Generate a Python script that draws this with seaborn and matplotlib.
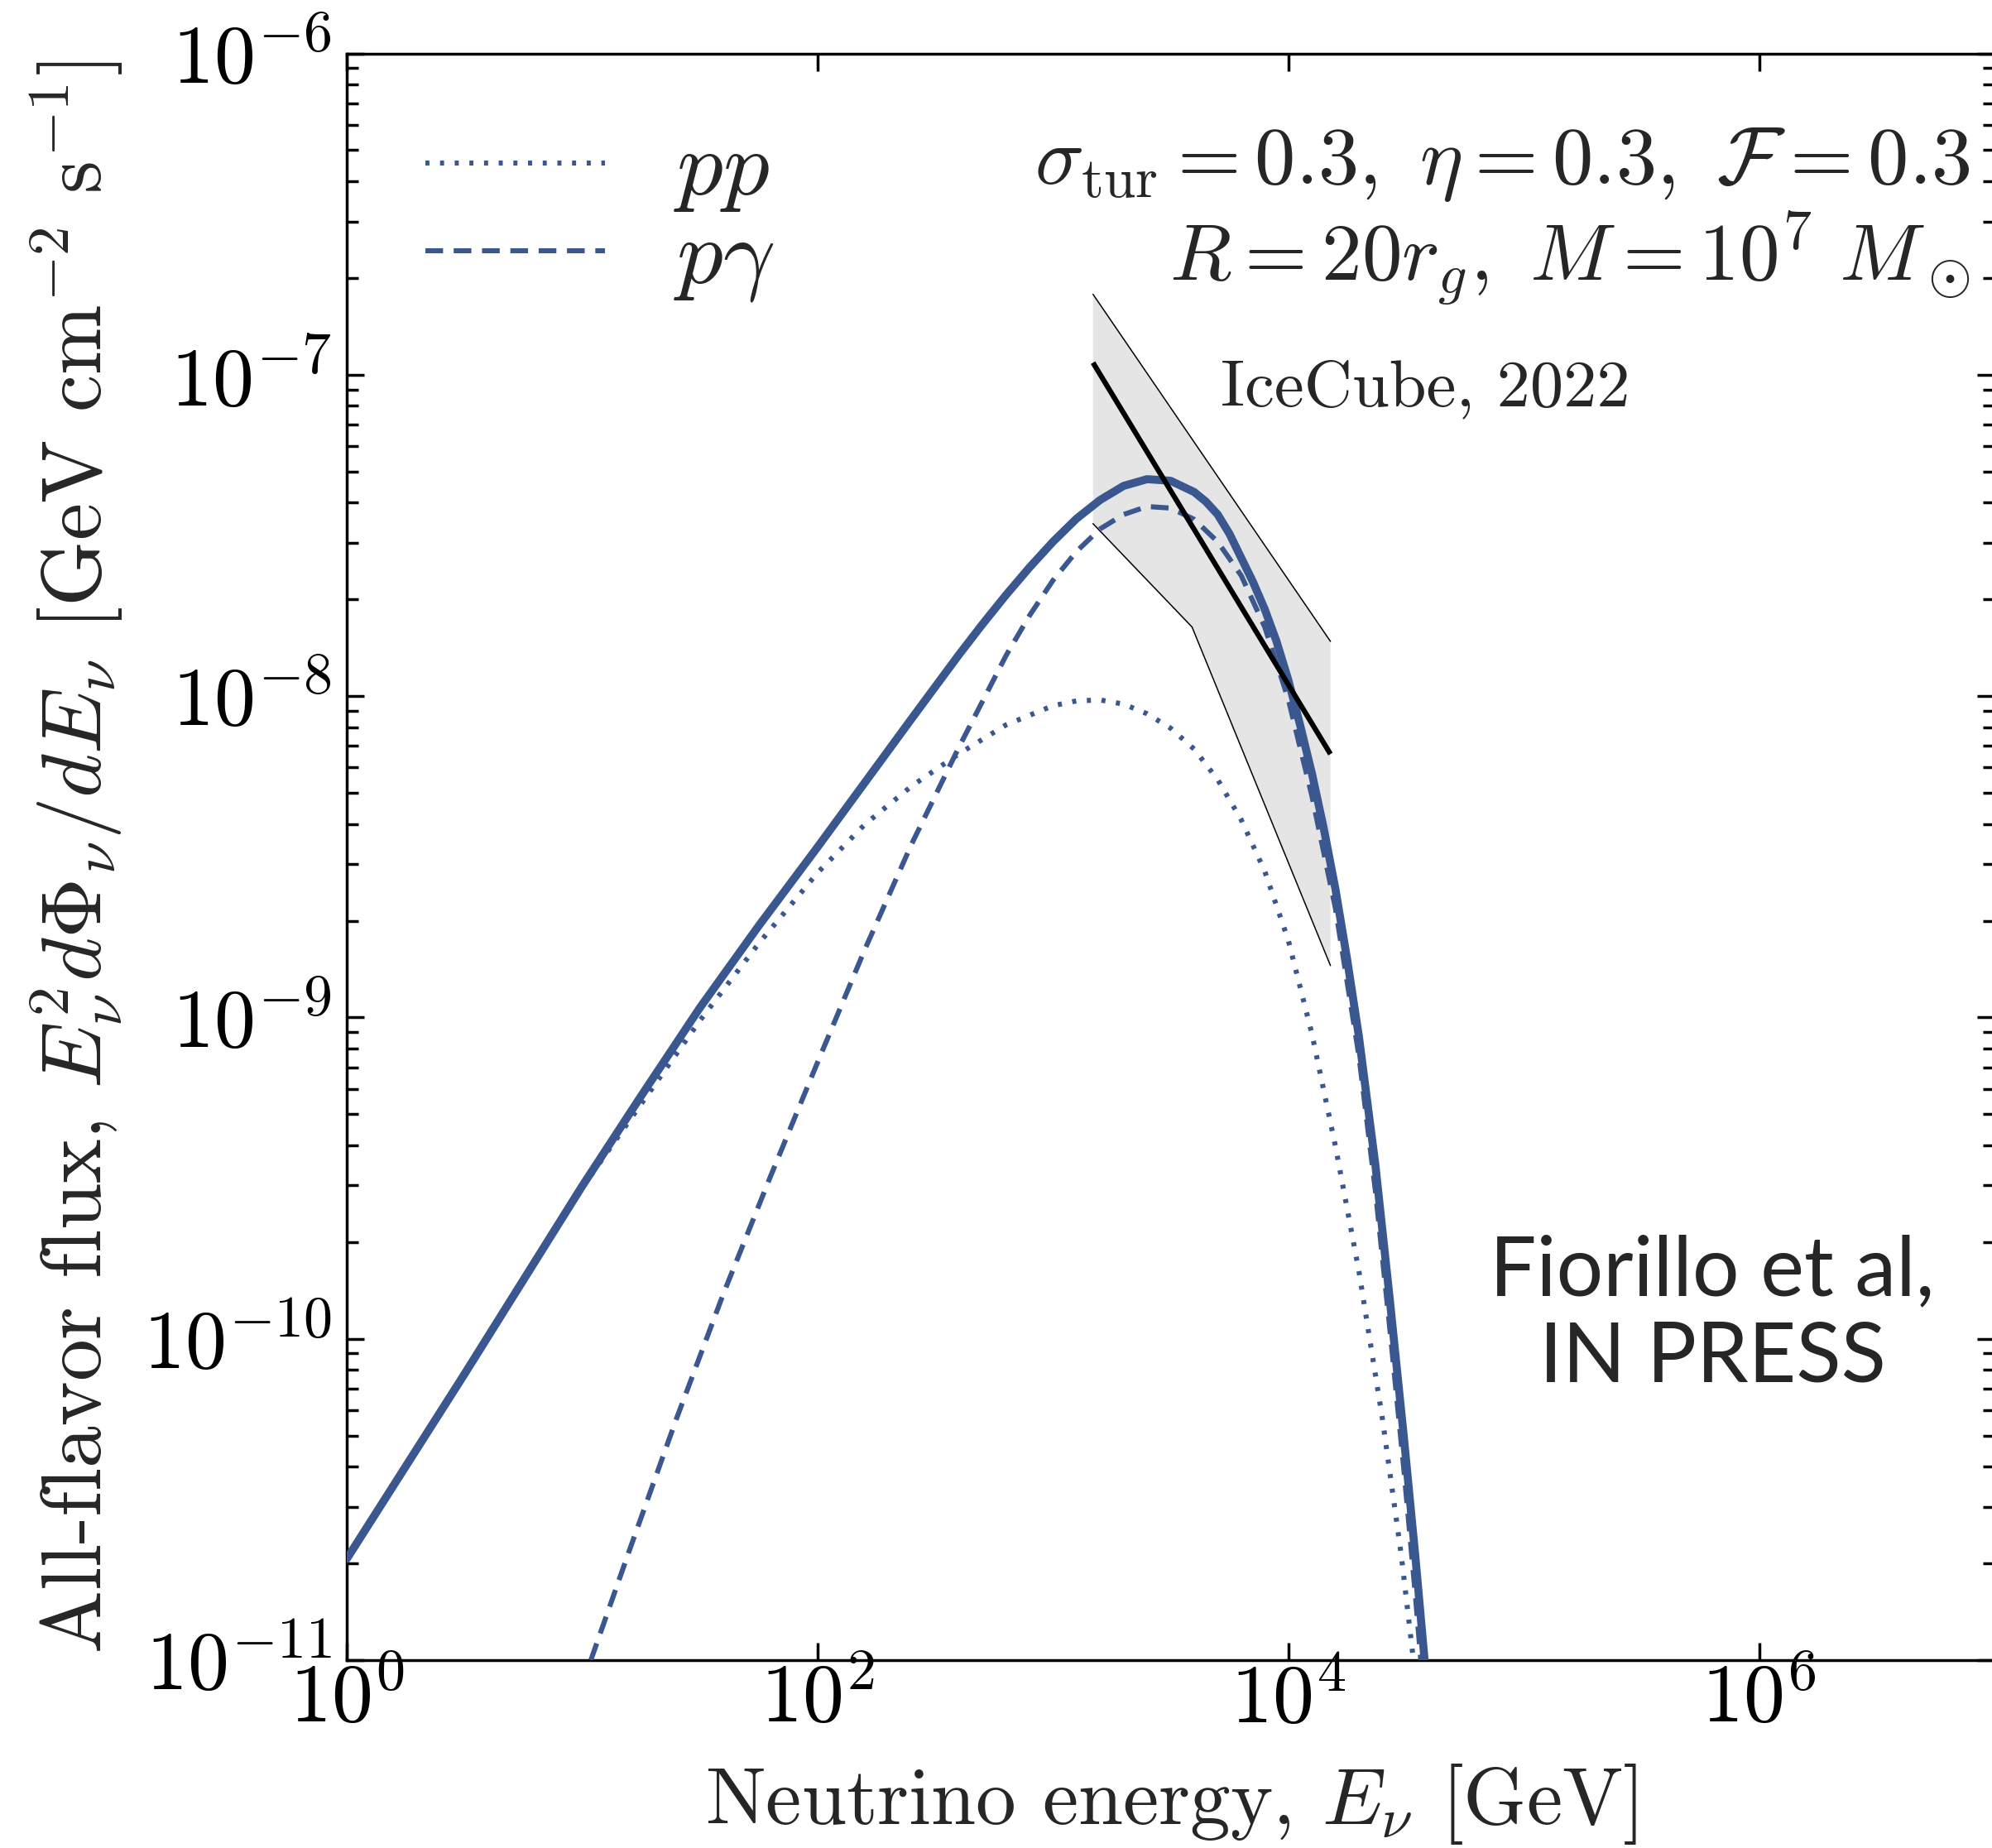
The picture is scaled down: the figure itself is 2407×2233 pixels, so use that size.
import numpy as np
import pandas as pd
import matplotlib
matplotlib.use("Agg")
import matplotlib.pyplot as plt
import seaborn as sns
from matplotlib.ticker import FixedLocator, FixedFormatter, NullLocator, LogLocator

# ---------------- data (log10 values) ----------------
total_logE = [0.00, 0.50, 1.00, 1.25, 1.50, 1.75, 2.00, 2.20, 2.40, 2.60, 2.70, 2.80, 2.90, 3.00,
              3.10, 3.20, 3.30, 3.40, 3.50, 3.60, 3.65, 3.70, 3.75, 3.80, 3.85, 3.90,
              3.95, 4.00, 4.05, 4.10, 4.15, 4.20, 4.25, 4.30, 4.37, 4.43, 4.49, 4.54,
              4.585]
total_logF = [-10.685, -10.11, -9.525, -9.245, -8.97, -8.715, -8.47, -8.27, -8.07, -7.872, -7.777, -7.686,
              -7.600, -7.520, -7.448, -7.390, -7.346, -7.325, -7.330, -7.365, -7.395, -7.435,
              -7.495, -7.570, -7.645, -7.730, -7.830, -7.950, -8.090, -8.240, -8.410, -8.600,
              -8.820, -9.060, -9.460, -9.870, -10.30, -10.68, -11.05]

pp_logE = [0.00, 0.50, 1.00, 1.50, 1.75, 2.00, 2.20, 2.40, 2.60, 2.80, 3.00, 3.10,
           3.20, 3.30, 3.40, 3.50, 3.60, 3.70, 3.80, 3.90, 4.00, 4.10, 4.20, 4.30,
           4.40, 4.48, 4.53]
pp_logF = [-10.685, -10.11, -9.53, -9.01, -8.77, -8.55, -8.40, -8.28, -8.18, -8.09,
           -8.03, -8.015, -8.012, -8.025, -8.055, -8.10, -8.165, -8.26, -8.385, -8.545,
           -8.76, -9.05, -9.40, -9.79, -10.25, -10.674, -10.99]

pg_logE = [1.037, 1.20, 1.40, 1.60, 1.80, 2.00, 2.20, 2.40, 2.60, 2.80, 2.90, 3.00,
           3.10, 3.20, 3.30, 3.40, 3.50, 3.60, 3.70, 3.80, 3.90, 4.00, 4.10, 4.20,
           4.30, 4.37, 4.43, 4.49, 4.54, 4.565]
pg_logF = [-11.0, -10.66, -10.25, -9.86, -9.495, -9.14, -8.79, -8.46, -8.16, -7.875,
           -7.75, -7.64, -7.55, -7.48, -7.435, -7.41, -7.415, -7.45, -7.52, -7.625,
           -7.785, -8.01, -8.31, -8.66, -9.12, -9.54, -9.96, -10.40, -10.80, -11.02]

# IceCube 2022 (NGC 1068) best fit and band
ic_fit_E = [1.48e3, 1.51e4]
ic_fit_F = [1.09e-7, 6.6e-9]
ic_up_E = [1.48e3, 1.51e4]
ic_up_F = [1.78e-7, 1.48e-8]
ic_lo_E = [1.48e3, 3.9e3, 1.51e4]
ic_lo_F = [3.44e-8, 1.64e-8, 1.45e-9]

xtick_vals = [1e0, 1e2, 1e4, 1e6]
xtick_labels = [r"$10^{0}$", r"$10^{2}$", r"$10^{4}$", r"$10^{6}$"]
ytick_vals = [1e-11, 1e-10, 1e-9, 1e-8, 1e-7, 1e-6]
ytick_labels = [r"$10^{-11}$", r"$10^{-10}$", r"$10^{-9}$", r"$10^{-8}$",
                r"$10^{-7}$", r"$10^{-6}$"]

# ---------------- style ----------------
sns.set_theme(style="ticks")
plt.rcParams.update({
    "font.family": ["cmr10", "DejaVu Serif"],
    "mathtext.fontset": "cm",
    "axes.unicode_minus": False,
    "axes.formatter.use_mathtext": True,
    "axes.linewidth": 2.5,
    "axes.edgecolor": "black",
})

blue = "#3a5790"
W, H = 2407, 2233
fig = plt.figure(figsize=(W / 100, H / 100), dpi=100)
ax_left, ax_bottom = 419 / W, 1 - 2006 / H
ax_w, ax_h = (2410 - 419) / W, (2006 - 64.5) / H
ax = fig.add_axes([ax_left, ax_bottom, ax_w, ax_h])
ax.set_xscale("log")
ax.set_yscale("log")

df_tot = pd.DataFrame({"E": 10 ** np.array(total_logE), "F": 10 ** np.array(total_logF)})
df_pp = pd.DataFrame({"E": 10 ** np.array(pp_logE), "F": 10 ** np.array(pp_logF)})
df_pg = pd.DataFrame({"E": 10 ** np.array(pg_logE), "F": 10 ** np.array(pg_logF)})

# IceCube band
band_E = ic_up_E + ic_lo_E[::-1]
band_F = ic_up_F + ic_lo_F[::-1]
ax.fill(band_E, band_F, color="#e5e5e5", lw=0, zorder=1)
ax.plot(ic_up_E, ic_up_F, color="black", lw=1.1, zorder=2)
ax.plot(ic_lo_E, ic_lo_F, color="black", lw=1.1, zorder=2)

sns.lineplot(data=df_pp, x="E", y="F", ax=ax, color=blue, lw=4.4,
             linestyle=(0, (0.8, 2.1)), sort=False, estimator=None, label=r"$pp$", zorder=3)
sns.lineplot(data=df_pg, x="E", y="F", ax=ax, color=blue, lw=4.4,
             linestyle=(0, (3.5, 2.1)), sort=False, estimator=None, label=r"$p\gamma$", zorder=3)
sns.lineplot(data=df_tot, x="E", y="F", ax=ax, color=blue, lw=7,
             sort=False, estimator=None, label="_total", zorder=4)

ax.plot(ic_fit_E, ic_fit_F, color="black", lw=4.5, zorder=5, solid_capstyle="butt")

ax.set_xlim(1, 1e7)
ax.set_ylim(1e-11, 1e-6)

ax.xaxis.set_major_locator(FixedLocator(xtick_vals))
ax.xaxis.set_major_formatter(FixedFormatter(xtick_labels))
ax.xaxis.set_minor_locator(NullLocator())
ax.yaxis.set_major_locator(FixedLocator(ytick_vals))
ax.yaxis.set_major_formatter(FixedFormatter(ytick_labels))
ax.yaxis.set_minor_locator(LogLocator(base=10, subs=np.arange(2, 10), numticks=20))

ax.tick_params(which="both", direction="in", top=True, right=True, colors="black")
ax.tick_params(which="major", length=15, width=2.5, labelsize=72)
ax.tick_params(axis="x", which="major", pad=2)
ax.tick_params(axis="y", which="major", pad=13)
ax.tick_params(which="minor", length=10, width=2.5)
for s in ax.spines.values():
    s.set_linewidth(2.5)
    s.set_color("black")

ax.set_xlabel(r"Neutrino energy, $E_\nu$ [GeV]", fontsize=70, labelpad=20)
ax.set_ylabel(r"All-flavor flux, $E_\nu^2 d\Phi_\nu/dE_\nu$ [GeV cm$^{-2}$ s$^{-1}$]",
              fontsize=73, labelpad=16)

# legend
handles = [l for l in ax.get_lines() if l.get_label() in (r"$pp$", r"$p\gamma$")]
leg = ax.legend(handles=handles, labels=[h.get_label() for h in handles],
                loc="upper left", bbox_to_anchor=(0.0477, 0.952), frameon=False,
                fontsize=80, handlelength=1.95, handletextpad=0.75,
                labelspacing=0.05, borderpad=0, borderaxespad=0)

# annotations
ax.text(0.985, 0.9189, r"$\sigma_{\rm tur} = 0.3,\ \eta = 0.3,\ \mathcal{F} = 0.3$",
        transform=ax.transAxes, ha="right", va="baseline", fontsize=71)
ax.text(0.985, 0.8586, r"$R = 20 r_g,\ M = 10^7\ M_\odot$",
        transform=ax.transAxes, ha="right", va="baseline", fontsize=70)
ax.text(0.5304, 0.7805, "IceCube, 2022", transform=ax.transAxes,
        ha="left", va="baseline", fontsize=58)
ax.text(0.8287, 0.2272, "Fiorillo et al,", transform=ax.transAxes,
        ha="center", va="baseline", fontsize=72, family=["Lato", "DejaVu Sans"])
ax.text(0.8287, 0.1731, "IN PRESS", transform=ax.transAxes,
        ha="center", va="baseline", fontsize=72, family=["Lato", "DejaVu Sans"])

fig.savefig("out.png", dpi=100)
